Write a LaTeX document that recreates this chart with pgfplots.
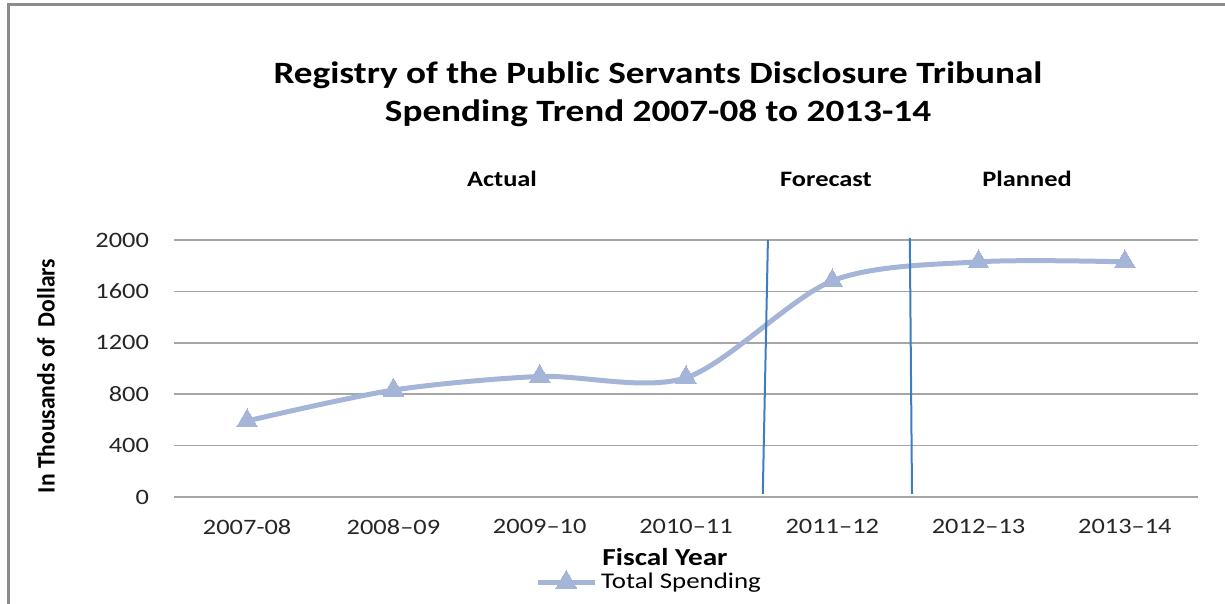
\documentclass[border=0pt]{standalone}
\usepackage{pgfplots}
\pgfplotsset{compat=1.18}
\usepackage{fontspec}
\setmainfont{Carlito}[FakeStretch=1.2]
\definecolor{serieblue}{HTML}{A4B5D8}
\definecolor{vblue}{HTML}{3F7CC2}
\definecolor{gridgray}{HTML}{A6A6A6}
\definecolor{framegray}{HTML}{8C8C8C}
\begin{document}
\begin{tikzpicture}
\useasboundingbox (0,0) rectangle (612.5pt,302pt);
\begin{axis}[
  at={(87pt,53.5pt)}, anchor=south west,
  scale only axis, width=512pt, height=128.5pt,
  xmin=-0.5, xmax=6.5, ymin=0, ymax=2000,
  xtick={0,1,2,3,4,5,6},
  xticklabels={2007-08,2008--09,2009--10,2010--11,2011--12,2012--13,2013--14},
  ytick={0,400,800,1200,1600,2000},
  axis line style={draw=none},
  tick style={draw=none},
  ymajorgrids, grid style={gridgray, line width=0.75pt},
  /pgf/number format/assume math mode=true,
  /pgf/number format/1000 sep={},
  ticklabel style={font=\fontsize{11}{12}\selectfont, text=black!85},
  yticklabel style={xshift=-9pt},
  xticklabel style={yshift=-7.5pt},
  legend style={at={(0.465,-0.331)}, anchor=center, draw=none, fill=none,
    font=\fontsize{11.2}{12}\selectfont, inner sep=0pt},
  legend image code/.code={\draw[mark repeat=2,mark phase=2] plot coordinates {(0cm,0cm) (0.5cm,0cm) (1cm,0cm)};},
  clip=false,
]
\addplot[serieblue, line width=2.5pt, smooth, tension=0.5,
  mark=triangle*, mark size=6pt, mark options={fill=serieblue, draw=serieblue, line width=0pt}]
  coordinates {(0,592) (1,832) (2,938) (3,928) (4,1682) (5,1830) (6,1830)};
\addlegendentry{Total Spending}
\addplot[vblue, line width=1pt, forget plot] coordinates {(3.56,2000) (3.525,25)};
\addplot[vblue, line width=1pt, forget plot] coordinates {(4.53,2016) (4.545,25)};
\end{axis}
\begin{scope}[x=0.5pt, y=-0.5pt, yshift=302pt]
\draw[framegray, line width=1.5pt] (8,700) -- (8,5) -- (1300,5);
\node[font=\fontsize{15.5}{19}\selectfont\bfseries, align=center] at (658,94) {Registry of the Public Servants Disclosure Tribunal\\Spending Trend 2007-08 to 2013-14};
\node[font=\fontsize{11}{12}\selectfont\bfseries] at (502,179) {Actual};
\node[font=\fontsize{11}{12}\selectfont\bfseries] at (826,179) {Forecast};
\node[font=\fontsize{11}{12}\selectfont\bfseries] at (1027,179) {Planned};
\node[font=\fontsize{12.2}{13}\selectfont\bfseries] at (665,557) {Fiscal Year};
\node[font=\fontsize{12.5}{14}\selectfont\bfseries, rotate=90] at (46,376) {\scalebox{0.787}[1]{In Thousands of~~Dollars}};
\end{scope}
\end{tikzpicture}
\end{document}
